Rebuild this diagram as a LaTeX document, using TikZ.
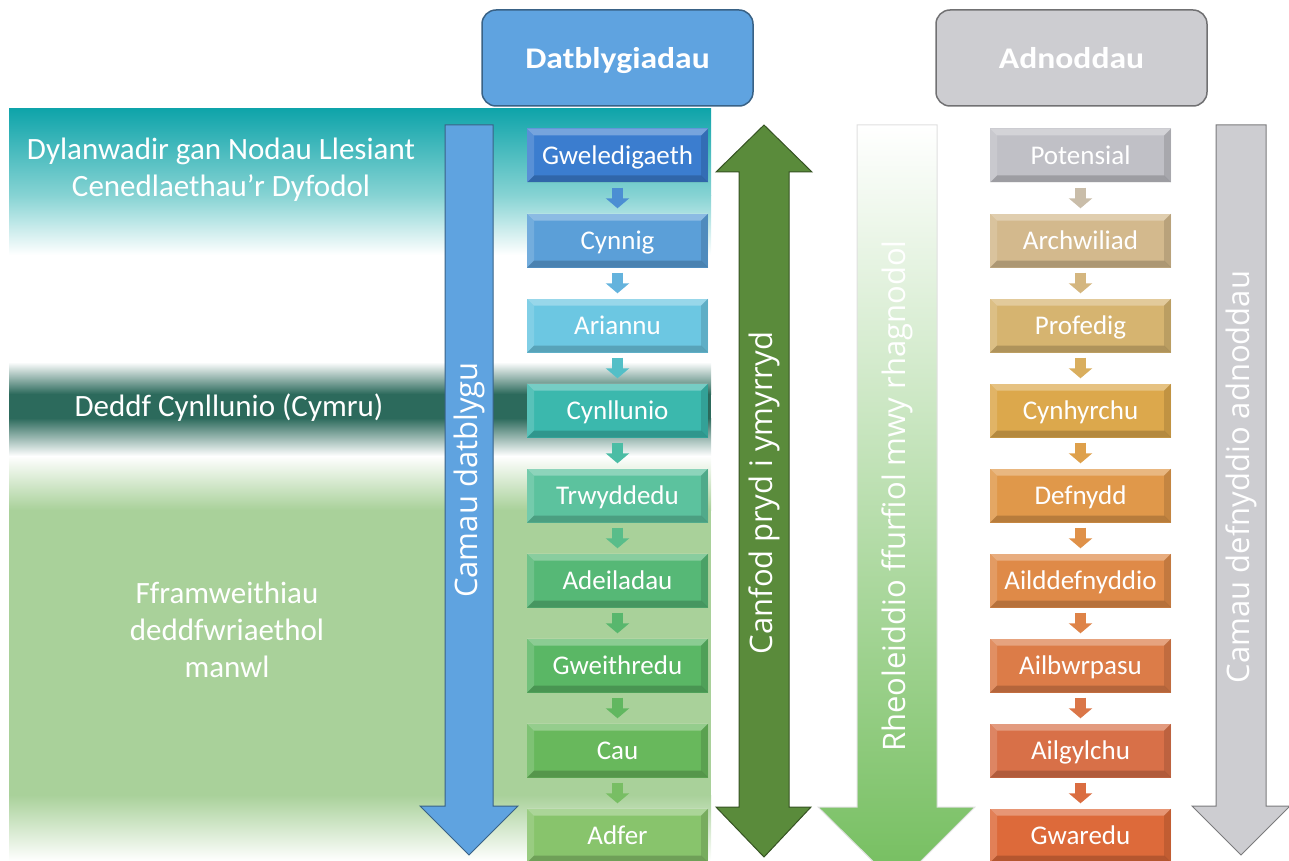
\documentclass[tikz,border=0pt]{standalone}
\usepackage{fontspec}
\setmainfont{Carlito}
\newfontfamily\labelfont{Open Sans}
\newfontfamily\headfont[FakeStretch=1.12]{Carlito}
\usetikzlibrary{arrows.meta}

% background and arrow colours
\definecolor{bgteal}{HTML}{0FA4AA}
\definecolor{bgtealmid}{HTML}{86D3D3}
\definecolor{bgband}{HTML}{2C6A5C}
\definecolor{bggreen}{HTML}{A9D19A}
\definecolor{devblue}{HTML}{5FA3E0}
\definecolor{resgray}{HTML}{CDCDD1}
\definecolor{ivgreen}{HTML}{5A8B3B}
\definecolor{regreen}{HTML}{74BE5E}
% development stages
\definecolor{dcol1}{HTML}{3B7DCF}
\definecolor{dcol2}{HTML}{5B9FD8}
\definecolor{dcol3}{HTML}{6CC7E2}
\definecolor{dcol4}{HTML}{3BB8AD}
\definecolor{dcol5}{HTML}{5CC29E}
\definecolor{dcol6}{HTML}{56B876}
\definecolor{dcol7}{HTML}{5AB765}
\definecolor{dcol8}{HTML}{68B85C}
\definecolor{dcol9}{HTML}{88C46C}
% resource stages
\definecolor{rcol1}{HTML}{C0C0C6}
\definecolor{rcol2}{HTML}{D3B98D}
\definecolor{rcol3}{HTML}{D6B470}
\definecolor{rcol4}{HTML}{DCA84C}
\definecolor{rcol5}{HTML}{E0984A}
\definecolor{rcol6}{HTML}{DF8A48}
\definecolor{rcol7}{HTML}{DC7C48}
\definecolor{rcol8}{HTML}{D87048}
\definecolor{rcol9}{HTML}{DD6A3A}

\tikzset{
	bevel/.style={path picture={
		\fill[white,opacity=.3] (path picture bounding box.north west) -- (path picture bounding box.north east)
			-- ([shift={(-7pt,-7pt)}]path picture bounding box.north east) -- ([shift={(7pt,-7pt)}]path picture bounding box.north west) -- cycle;
		\fill[white,opacity=.15] (path picture bounding box.north west) -- (path picture bounding box.south west)
			-- ([shift={(7pt,7pt)}]path picture bounding box.south west) -- ([shift={(7pt,-7pt)}]path picture bounding box.north west) -- cycle;
		\fill[black,opacity=.18] (path picture bounding box.south west) -- (path picture bounding box.south east)
			-- ([shift={(-7pt,7pt)}]path picture bounding box.south east) -- ([shift={(7pt,7pt)}]path picture bounding box.south west) -- cycle;
		\fill[black,opacity=.12] (path picture bounding box.north east) -- (path picture bounding box.south east)
			-- ([shift={(-7pt,7pt)}]path picture bounding box.south east) -- ([shift={(-7pt,-7pt)}]path picture bounding box.north east) -- cycle;
	}},
	stage/.style={bevel,minimum width=181pt,minimum height=54pt,inner sep=0pt,text height=17.4pt,text depth=0pt,text=white,font=\fontsize{27}{31}\selectfont},
	header/.style={rounded corners=14pt,minimum width=271pt,minimum height=96pt,line width=1.5pt,text height=21pt,text depth=0pt,text=white,font=\headfont\bfseries\fontsize{30}{35}\selectfont},
	flow/.style={line width=11pt,-{Triangle[width=23pt,length=10pt]},shorten <=5pt,shorten >=5pt},
	lawtext/.style={align=center,text=white,font=\fontsize{31}{37}\selectfont},
	bigtext/.style={rotate=90,text=white,font=\labelfont\fontsize{31}{36}\selectfont}
}

\begin{document}
\begin{tikzpicture}[x=1pt,y=-1pt]
	\useasboundingbox (0,0) rectangle (1289,861);
	% background panel
	\shade[top color=bgteal,bottom color=bgtealmid] (9,109) rectangle (711,195);
	\shade[top color=bgtealmid,bottom color=white] (9,195) rectangle (711,255);
	\shade[top color=white,bottom color=bgband] (9,362) rectangle (711,394);
	\fill[bgband] (9,394) rectangle (711,418);
	\shade[top color=bgband,bottom color=white] (9,418) rectangle (711,456);
	\shade[top color=white,bottom color=bggreen] (9,456) rectangle (711,510);
	\fill[bggreen] (9,510) rectangle (711,795);
	\shade[top color=bggreen,bottom color=white] (9,795) rectangle (711,861);

	% big arrows
	\fill[devblue,draw=devblue!60!black,line width=1pt] (445,125) -- (493,125) -- (493,806) -- (518,806) -- (469,855) -- (420,806) -- (445,806) -- cycle;
	\fill[ivgreen,draw=ivgreen!60!black,line width=1pt] (764,125) -- (812,172) -- (789,172) -- (789,807) -- (811,807) -- (764,857) -- (716,807) -- (739,807) -- (739,172) -- (716,172) -- cycle;
	\shade[top color=white,bottom color=regreen,draw=black!12,line width=1pt] (857,125) -- (937,125) -- (937,807) -- (975,807) -- (897,885) -- (818,807) -- (857,807) -- cycle;
	\fill[resgray,draw=resgray!60!black,line width=1pt] (1216,125) -- (1266,125) -- (1266,806) -- (1290,806) -- (1241,855) -- (1192,806) -- (1216,806) -- cycle;

	\node[bigtext] (devsteps) at (469,480) {Camau datblygu};
	\node[bigtext] (intervene) at (764,493) {Canfod pryd i ymyrryd};
	\node[bigtext] (regulation) at (897,496) {Rheoleiddio ffurfiol mwy rhagnodol};
	\node[bigtext] (ressteps) at (1241,477) {Camau defnyddio adnoddau};

	% headers
	\node[header,fill=devblue,draw=devblue!60!black] (devhead) at (617.5,58) {Datblygiadau};
	\node[header,fill=resgray,draw=resgray!55!black] (reshead) at (1071.5,58) {Adnoddau};

	% legislation texts
	\node[lawtext] (wellbeing) at (221,170) {Dylanwadir gan Nodau Llesiant\\Cenedlaethau’r Dyfodol};
	\node[lawtext] (planact) at (229,408) {Deddf Cynllunio (Cymru)};
	\node[lawtext] (frameworks) at (227,630) {Fframweithiau\\deddfwriaethol\\manwl};

	% stage boxes
	\foreach \name [count=\i] in {Gweledigaeth,Cynnig,Ariannu,Cynllunio,Trwyddedu,Adeiladau,Gweithredu,Cau,Adfer}
		\node[stage,fill=dcol\i] (d\i) at (617.5,{155.5+85*(\i-1)}) {\name};
	\foreach \name [count=\i] in {Potensial,Archwiliad,Profedig,Cynhyrchu,Defnydd,Ailddefnyddio,Ailbwrpasu,Ailgylchu,Gwaredu}
		\node[stage,fill=rcol\i] (r\i) at (1080.5,{155.5+85*(\i-1)}) {\name};
	\foreach \i [evaluate=\i as \j using int(\i+1)] in {1,...,8} {
		\draw[flow,draw=dcol\i!50!dcol\j] (d\i) -- (d\j);
		\draw[flow,draw=rcol\i!50!rcol\j] (r\i) -- (r\j);
	}
\end{tikzpicture}
\end{document}
